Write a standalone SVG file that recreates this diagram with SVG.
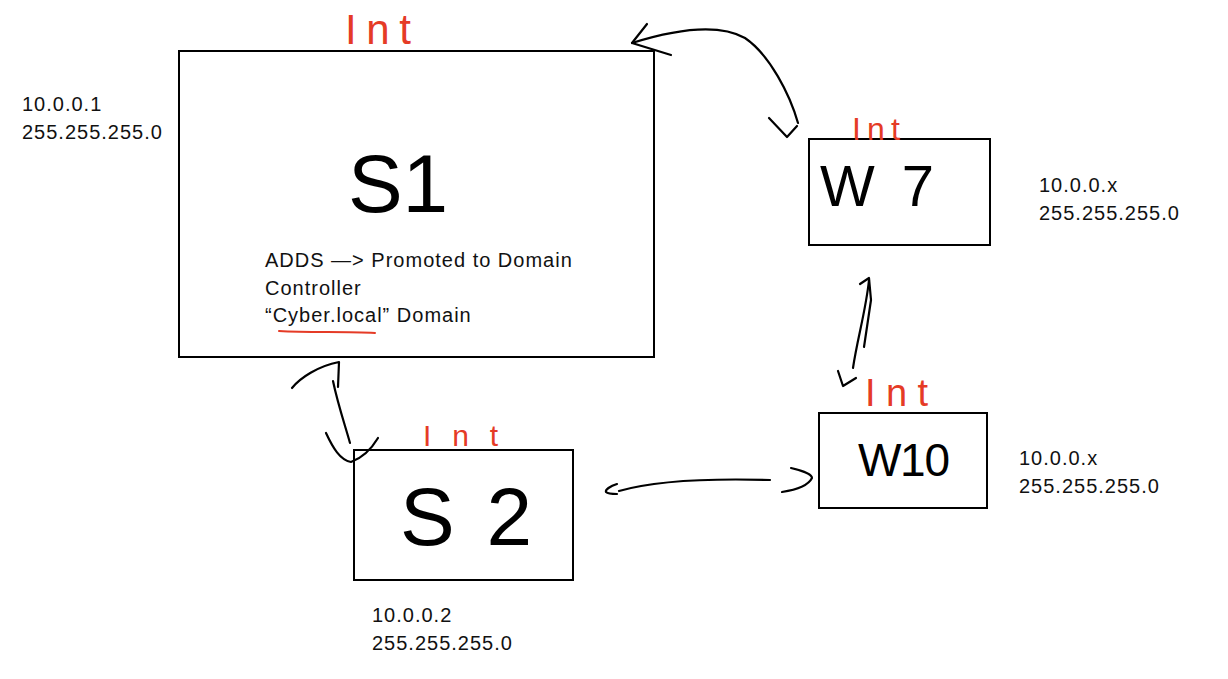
<svg xmlns="http://www.w3.org/2000/svg" width="1228" height="679" viewBox="0 0 1228 679">
<style>
.box{fill:none;stroke:#000;stroke-width:2}
.ink{fill:none;stroke:#000;stroke-width:2.2;stroke-linecap:round;stroke-linejoin:round}
.red{fill:none;stroke:#e53b26;stroke-width:2;stroke-linecap:round}
.t{font-family:"Liberation Sans",Arial,sans-serif;font-size:20px;letter-spacing:1px;fill:#111}
.hw{font-family:"Liberation Sans",Arial,sans-serif;fill:#000}
.int{font-family:"Liberation Sans",Arial,sans-serif;fill:#e53b26}
</style>
<rect width="1228" height="679" fill="#fff"/>
<g id="connectors">
<path class="ink" d="M632,43 C680,28 720,24 745,38 C770,55 790,95 798,123"/>
<path class="ink" d="M647,24 L632,43 L671,55"/>
<path class="ink" d="M769,118 L787,137 L797,126"/>
<path class="ink" d="M860,284 L869,278 L871,300 L864,347"/>
<path class="ink" d="M869,280 C866,310 857,340 853,368"/>
<path class="ink" d="M838,371 L843,386 L856,378"/>
<path class="ink" d="M292,388 C300,378 318,366 339,362 L338,387"/>
<path class="ink" d="M333,381 C338,405 345,425 350,443"/>
<path class="ink" d="M326,433 C333,448 340,460 351,462 C362,458 372,448 378,438"/>
<path class="ink" d="M617,484 C610,486 605,490 606,492 C608,494 612,494 617,494"/>
<path class="ink" d="M619,491 C650,482 700,478 770,480"/>
<path class="ink" d="M791,468 C800,470 812,474 812,478 C808,486 795,490 782,492"/>
</g>
<g id="S1">
<rect class="box" x="179" y="51" width="475" height="306"/>
<text class="int" x="345" y="44" font-size="42" textLength="66" lengthAdjust="spacing">Int</text>
<text class="hw" x="348" y="212" font-size="82" textLength="100" lengthAdjust="spacing">S1</text>
<text class="t" x="265" y="267">ADDS —&gt; Promoted to Domain</text>
<text class="t" x="265" y="295">Controller</text>
<text class="t" x="265" y="322">“Cyber.local” Domain</text>
<path class="red" d="M279,331 C310,333 345,331 375,333"/>
<text class="t" x="22" y="111">10.0.0.1</text>
<text class="t" x="22" y="139">255.255.255.0</text>
</g>
<g id="W7">
<rect class="box" x="809" y="139" width="181" height="106"/>
<text class="int" x="852" y="140" font-size="32" textLength="48" lengthAdjust="spacing">Int</text>
<text class="hw" x="820" y="206" font-size="58" textLength="114" lengthAdjust="spacing">W7</text>
<text class="t" x="1039" y="192">10.0.0.x</text>
<text class="t" x="1039" y="220">255.255.255.0</text>
</g>
<g id="W10">
<rect class="box" x="819" y="413" width="168" height="95"/>
<text class="int" x="865" y="406" font-size="38" textLength="63" lengthAdjust="spacing">Int</text>
<text class="hw" x="858" y="476" font-size="46" textLength="92" lengthAdjust="spacing">W10</text>
<text class="t" x="1019" y="465">10.0.0.x</text>
<text class="t" x="1019" y="493">255.255.255.0</text>
</g>
<g id="S2">
<rect class="box" x="354" y="450" width="219" height="130"/>
<text class="int" x="423" y="446" font-size="30" textLength="75" lengthAdjust="spacing">Int</text>
<text class="hw" x="400" y="545" font-size="82" textLength="132" lengthAdjust="spacing">S2</text>
<text class="t" x="372" y="622">10.0.0.2</text>
<text class="t" x="372" y="650">255.255.255.0</text>
</g>
</svg>
